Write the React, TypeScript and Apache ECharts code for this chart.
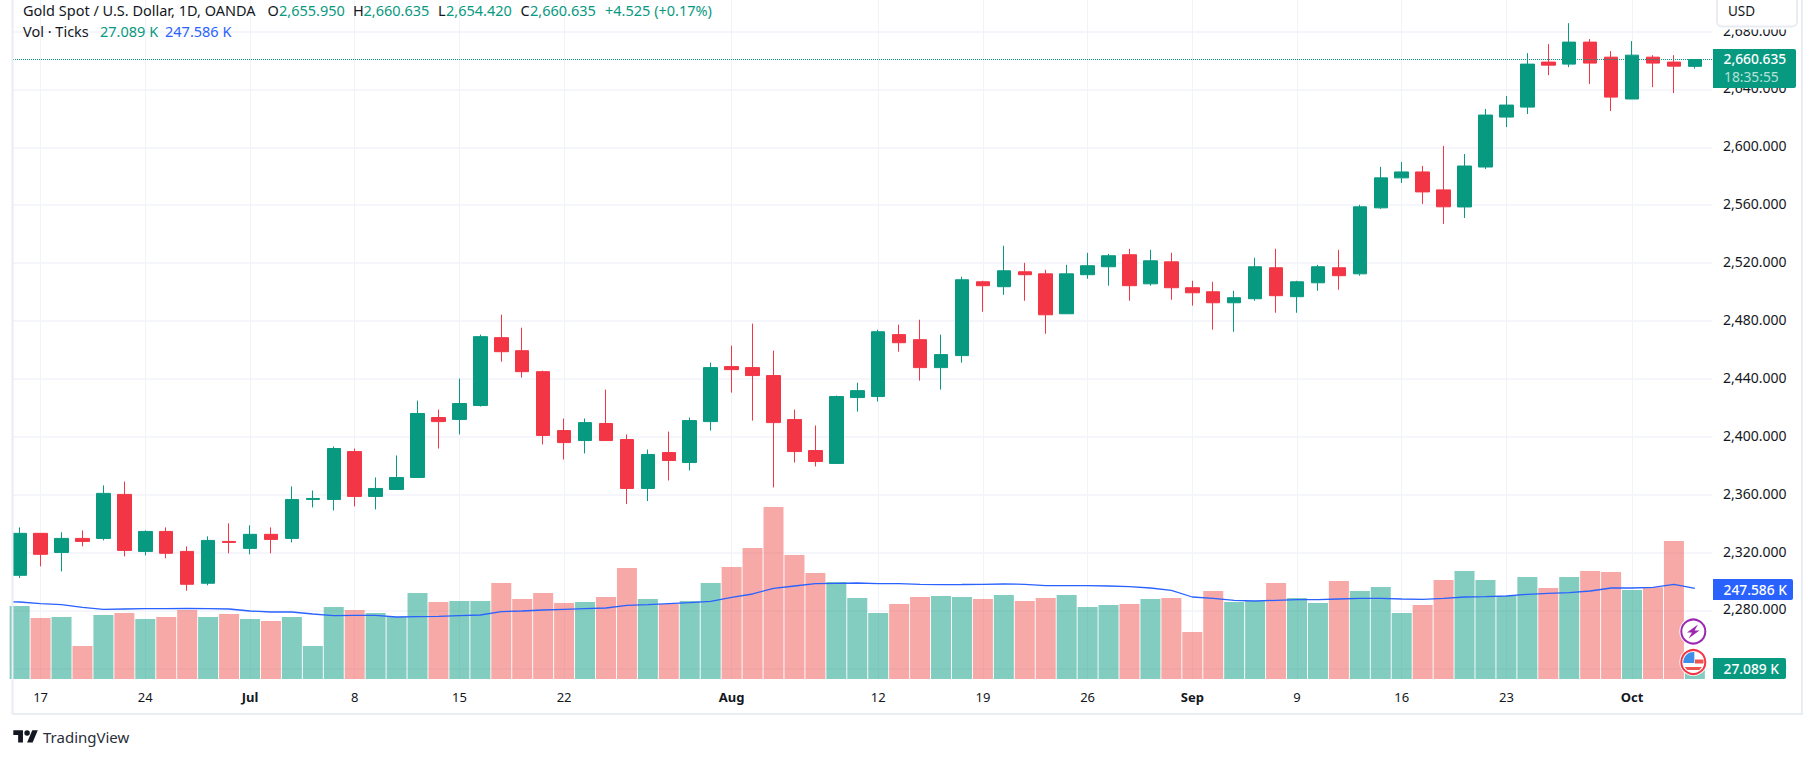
import React, { useEffect, useRef } from "react";
import * as echarts from "echarts";

// open, close, low, high per trading day, 14 Jun – 4 Oct 2024
const ohlcRows: number[][] = [
  [2304.3, 2333.3, 2302.4, 2337.4], [2333.3, 2318.8, 2310.5, 2333.3], [2320.1, 2329.8, 2307, 2334],
  [2329.8, 2327.7, 2324.3, 2335.3], [2329.8, 2360.9, 2328.4, 2366.4], [2360.2, 2321.5, 2317.4, 2369.1],
  [2320.8, 2334.6, 2318.1, 2335.3], [2334.6, 2319.5, 2316, 2337.4], [2320.8, 2298.1, 2293.6, 2324.3],
  [2298.8, 2328.4, 2297.4, 2331.2], [2327.7, 2327, 2319.5, 2340.2], [2322.9, 2332.6, 2318.8, 2338.8],
  [2332.6, 2329.1, 2319.5, 2337.4], [2329.8, 2356.7, 2327, 2365.7], [2356.7, 2357.4, 2351.2, 2362.9],
  [2356.7, 2391.9, 2349.1, 2393.3], [2389.8, 2358.8, 2351.9, 2391.9], [2358.8, 2364.3, 2349.8, 2371.9],
  [2363.6, 2371.9, 2363.6, 2387.1], [2371.9, 2416.1, 2371.9, 2425], [2413.3, 2410.5, 2391.9, 2418.8],
  [2412, 2423, 2401.6, 2440.2], [2421.6, 2469.2, 2420.9, 2470.6], [2468.5, 2458.8, 2451.9, 2484.4],
  [2459.5, 2445, 2440.9, 2475.4], [2445, 2400.9, 2394.7, 2445.7], [2404.3, 2396, 2384.3, 2412.6],
  [2397.4, 2409.8, 2388.5, 2412.6], [2409.2, 2397.4, 2397.4, 2432.6], [2398.1, 2364.3, 2353.5, 2401.6],
  [2364.3, 2387.8, 2355.6, 2391.2], [2389.1, 2383.6, 2369.8, 2403.6], [2382.2, 2411.2, 2376.7, 2413.3],
  [2410.5, 2447.8, 2404.3, 2451.2], [2448.5, 2446.4, 2430.5, 2463], [2447.8, 2442.3, 2411.2, 2478.2],
  [2442.3, 2409.8, 2365, 2459.5], [2411.9, 2389.8, 2382.2, 2418.8], [2390.5, 2382.9, 2379.5, 2407.8],
  [2381.6, 2427.8, 2381.6, 2428.5], [2427.1, 2431.9, 2417.4, 2437.4], [2427.8, 2472.6, 2424.3, 2474],
  [2470.6, 2465, 2458.8, 2477.5], [2467.1, 2447.8, 2438.8, 2480.9], [2447.8, 2456.8, 2432.6, 2470.6],
  [2456.1, 2508.5, 2451.2, 2510.6], [2507.1, 2504.4, 2486.4, 2507.8], [2503.7, 2514.7, 2498.1, 2532],
  [2514, 2512, 2494, 2520.2], [2512.6, 2484.3, 2471.2, 2515.4], [2485, 2512.6, 2485, 2518.8],
  [2512, 2518.2, 2509.2, 2527.1], [2517.5, 2525.1, 2504.4, 2526.4], [2525.8, 2504.4, 2494, 2529.9],
  [2505.7, 2521.6, 2504.4, 2529.2], [2520.9, 2503, 2494.7, 2527.1], [2503, 2499.5, 2490.6, 2507.8],
  [2500.2, 2492.6, 2474, 2507.1], [2492.6, 2496.1, 2472.6, 2500.9], [2495.4, 2517.5, 2494, 2523.7],
  [2516.8, 2497.5, 2485.7, 2529.9], [2496.8, 2507.1, 2485.7, 2507.8], [2506.4, 2517.5, 2500.9, 2518.8],
  [2516.8, 2511.3, 2501.6, 2529.2], [2512.6, 2558.9, 2511.3, 2560.3], [2558.2, 2578.9, 2557.5, 2586.5],
  [2578.9, 2583, 2575.4, 2589.9], [2583, 2569.2, 2560.9, 2587.2], [2570.6, 2558.9, 2547.1, 2601],
  [2558.8, 2587.1, 2551.2, 2595.4], [2586.4, 2622.3, 2585, 2626.5], [2620.9, 2629.2, 2614, 2635.4],
  [2627.8, 2657.5, 2623, 2665.1], [2658.9, 2656.8, 2649.9, 2671.3], [2657.5, 2672.7, 2655.4, 2685.8],
  [2672.7, 2658.2, 2643.7, 2674.8], [2662.3, 2634.7, 2625.1, 2666.5], [2633.4, 2663.7, 2633.4, 2673.4],
  [2662.3, 2658.2, 2641.6, 2663.7], [2658.9, 2656.1, 2637.5, 2663.7], [2655.95, 2660.635, 2654.42, 2660.635],
];

// volume in thousands of ticks
const volumes: number[] = [
  199.2, 166.5, 169.2, 90, 174.7, 180.1, 163.8, 169.2, 188.3, 169.2, 177.4, 163.8, 158.3, 169.2, 90, 196.5,
  188.3, 180.1, 169.2, 234.7, 210.2, 212.9, 212.9, 262, 218.4, 234.7, 207.4, 210.2, 223.8, 303, 218.4, 204.7,
  212.9, 262, 305.7, 357.6, 469.5, 338.4, 289.3, 264.8, 221.1, 180.1, 204.7, 223.8, 226.5, 223.8, 218.4, 229.3,
  212.9, 221.1, 229.3, 196.5, 202, 204.7, 218.4, 221.1, 128.3, 240.2, 210.2, 212.9, 262, 221.1, 207.4, 267.5,
  240.2, 251.1, 180.1, 202, 270.2, 294.8, 270.2, 226.5, 278.4, 248.4, 278.4, 294.8, 292, 242.9, 250.2, 376.7, 27.089,
];

const volumeMa: number[] = [
  210.2, 205.6, 202.9, 195.6, 190.2, 191.1, 192, 192, 192.9, 192, 191.1, 185.6, 182.9, 182.9, 177.4, 172.9,
  173.8, 173.8, 169.2, 170.1, 171, 172.9, 174.7, 183.8, 185.6, 188.3, 190.2, 192, 193.8, 201, 202.9, 205.6,
  208.3, 212, 222.9, 232, 247.5, 253.8, 260.2, 261.1, 262, 260.2, 260.2, 258.4, 257.5, 257.9, 258.4, 259.3,
  258.4, 254.7, 254.7, 254.7, 253.8, 252, 248.4, 242, 223.8, 220.2, 214.7, 212.9, 214.7, 216.5, 216.5, 218.4,
  220.2, 220.2, 218.4, 217.4, 220.2, 223.8, 224.7, 226.5, 231.1, 233.8, 235.6, 240.2, 248.4, 248.4, 250.2, 258.4, 247.586,
];
// the moving average already runs in from the session before the first visible bar
const volumeMaBefore = 211;

const dateTickIndex = [1, 6, 11, 16, 21, 26, 34, 41, 46, 51, 56, 61, 66, 71, 77];
const dateTickLabels = ["17", "24", "Jul", "8", "15", "22", "Aug", "12", "19", "26", "Sep", "9", "16", "23", "Oct"];
const priceTicks = [2240, 2280, 2320, 2360, 2400, 2440, 2480, 2520, 2560, 2600, 2640, 2680];
const lastPrice = 2660.635;

const UP = "#089981";
const DOWN = "#F23645";
const GRID = "#F0F3FA";
const FRAME = "#E9ECF3";
const INK = "#131722";
const BLUE = "#2962FF";
const FONT = '"Noto Sans", sans-serif';

echarts.graphic.registerShape(
  "tvLogo",
  echarts.graphic.extendPath("M14 22H7V11H0V4h14v18zM28 22h-8l7.5-18h8L28 22z M24 8a4 4 0 1 1-8 0a4 4 0 0 1 8 0z", {})
);
echarts.graphic.registerShape(
  "flagCanton",
  echarts.graphic.extendPath("M1 1 L-10 1 A10 10 0 0 1 1 -9.95 Z", {})
);
echarts.graphic.registerShape(
  "flagBottom",
  echarts.graphic.extendPath("M-8.5 5 L8.5 5 A10 10 0 0 1 6 8 L-6 8 A10 10 0 0 1 -8.5 5 Z", {})
);

const txt = (text: string, x: number, y: number, fill: string, size = 14.5, weight = "400", align = "left") => ({
  type: "text",
  x,
  y,
  z: 120,
  silent: true,
  style: { text, fill, font: `${weight} ${size}px ${FONT}`, verticalAlign: "middle", align },
});

const headerGraphics = [
  txt("Gold Spot / U.S. Dollar, 1D, OANDA", 23, 10, INK),
  txt("O", 267.5, 10, INK),
  txt("2,655.950", 279, 10, UP),
  txt("H", 353, 10, INK),
  txt("2,660.635", 363.5, 10, UP),
  txt("L", 438, 10, INK),
  txt("2,654.420", 446, 10, UP),
  txt("C", 520.5, 10, INK),
  txt("2,660.635", 530, 10, UP),
  txt("+4.525 (+0.17%)", 605, 10, UP),
  txt("Vol · Ticks", 23, 31, INK),
  txt("27.089 K", 100, 31, UP),
  txt("247.586 K", 165, 31, BLUE),
];

const boxGraphics = [
  // outer frame
  { type: "line", z: 90, silent: true, shape: { x1: 12.5, y1: 0, x2: 12.5, y2: 714 }, style: { stroke: FRAME, lineWidth: 2 } },
  { type: "line", z: 90, silent: true, shape: { x1: 1802, y1: 0, x2: 1802, y2: 714 }, style: { stroke: FRAME, lineWidth: 2 } },
  { type: "line", z: 90, silent: true, shape: { x1: 12.5, y1: 714, x2: 1803, y2: 714 }, style: { stroke: FRAME, lineWidth: 2 } },
  // USD, with the white band under it that hides the top of the 2,680 label
  { type: "rect", z: 100, silent: true, shape: { x: 1714, y: 26, width: 86, height: 3.5 }, style: { fill: "#fff" } },
  { type: "rect", z: 100, silent: true, shape: { x: 1717, y: -8, width: 80, height: 34.5, r: 5 }, style: { fill: "#fff", stroke: FRAME, lineWidth: 2 } },
  txt("USD", 1728, 10.5, INK, 13.5),
  // last price tag
  { type: "rect", z: 100, silent: true, shape: { x: 1713, y: 49, width: 83, height: 39, r: [0, 2, 2, 0] }, style: { fill: UP } },
  txt("2,660.635", 1723.5, 58.5, "#fff", 13.8, "500"),
  txt("18:35:55", 1724, 76.5, "#B5E0D8", 13.8),
  // MA tag
  { type: "rect", z: 100, silent: true, shape: { x: 1713, y: 579, width: 80, height: 21, r: [0, 2, 2, 0] }, style: { fill: BLUE } },
  txt("247.586 K", 1723.5, 589.5, "#fff", 13.8, "500"),
  // volume tag
  { type: "rect", z: 100, silent: true, shape: { x: 1713, y: 658, width: 73, height: 21, r: [0, 2, 2, 0] }, style: { fill: UP } },
  txt("27.089 K", 1723.5, 668.5, "#fff", 13.8, "500"),
];

const markerGraphics = [
  { type: "circle", z: 100, silent: true, shape: { cx: 1693.3, cy: 631.5, r: 14 }, style: { fill: "#fff" } },
  { type: "circle", z: 101, silent: true, shape: { cx: 1693.3, cy: 631.5, r: 12 }, style: { fill: "#fff", stroke: "#9C27B0", lineWidth: 2 } },
  {
    type: "polygon",
    z: 102,
    silent: true,
    shape: { points: [[1698, 624.5], [1687, 632.5], [1692, 632.5], [1688.5, 638.5], [1699.5, 630.5], [1694.5, 630.5]] },
    style: { fill: "#9C27B0" },
  },
  { type: "circle", z: 103, silent: true, shape: { cx: 1693.3, cy: 662, r: 14 }, style: { fill: "#fff" } },
  { type: "circle", z: 104, silent: true, shape: { cx: 1693.3, cy: 662, r: 12 }, style: { fill: "#fff", stroke: DOWN, lineWidth: 2 } },
  { type: "flagCanton", z: 105, silent: true, x: 1693.3, y: 662, style: { fill: "#3D8FE8" } },
  { type: "rect", z: 105, silent: true, shape: { x: 1695, y: 659.5, width: 8.5, height: 4 }, style: { fill: "#EF5350" } },
  { type: "flagBottom", z: 105, silent: true, x: 1693.3, y: 662, style: { fill: "#EF5350" } },
];

const logoGraphics = [
  { type: "tvLogo", z: 100, silent: true, x: 13.3, y: 727.4, scaleX: 0.69, scaleY: 0.69, style: { fill: INK } },
  txt("TradingView", 43, 736.5, "#2A2E39", 15),
];

export default function App() {
  const ref = useRef<HTMLDivElement>(null);

  useEffect(() => {
    const chart = echarts.init(ref.current!, undefined, { renderer: "svg" });
    const candleData = ohlcRows.map((r, i) => [i, r[0], r[1], r[2], r[3]]);
    const maData = [[-1, volumeMaBefore], ...volumeMa.map((v, i) => [i, v])];
    const option: any = {
      animation: false,
      backgroundColor: "#fff",
      grid: { left: 13, top: 0, width: 1699, height: 679, containLabel: false },
      xAxis: {
        type: "value",
        min: -0.318,
        max: 80.818,
        axisLine: { show: false },
        axisTick: { show: false, customValues: dateTickIndex },
        axisLabel: {
          customValues: dateTickIndex,
          margin: 11,
          color: INK,
          fontFamily: FONT,
          fontSize: 13,
          formatter: (v: number) => {
            const s = dateTickLabels[dateTickIndex.indexOf(v)] ?? "";
            return /[A-Za-z]/.test(s) ? `{m|${s}}` : s;
          },
          rich: { m: { fontFamily: FONT, fontSize: 13, fontWeight: 700, color: INK } },
        },
        splitLine: { show: true, lineStyle: { color: GRID, width: 1 } },
      },
      yAxis: [
        {
          type: "value",
          position: "right",
          min: 2232.65,
          max: 2701.8,
          axisLine: { show: false },
          axisTick: { show: false, customValues: priceTicks },
          axisLabel: {
            customValues: priceTicks,
            margin: 11,
            color: INK,
            fontFamily: FONT,
            fontSize: 14,
            verticalAlign: "bottom",
            lineHeight: 3,
            formatter: (v: number) =>
              v.toLocaleString("en-US", { minimumFractionDigits: 3, maximumFractionDigits: 3 }),
          },
          splitLine: { show: true, lineStyle: { color: GRID, width: 1.5 } },
        },
        {
          type: "value",
          position: "right",
          min: 0,
          max: 1853.2,
          show: false,
          splitLine: { show: false },
        },
      ],
      series: [
        {
          type: "bar",
          name: "Vol",
          yAxisIndex: 1,
          z: 1,
          barWidth: 20,
          data: volumes.map((v, i) => [i, v]),
          itemStyle: {
            color: (p: any) =>
              ohlcRows[p.dataIndex][1] >= ohlcRows[p.dataIndex][0] ? "rgba(8,153,129,0.5)" : "rgba(239,83,80,0.5)",
          },
        },
        {
          type: "line",
          name: "Vol MA",
          yAxisIndex: 1,
          z: 2,
          symbol: "none",
          data: maData,
          lineStyle: { color: BLUE, width: 1.3 },
        },
        {
          type: "candlestick",
          name: "Gold",
          yAxisIndex: 0,
          z: 3,
          barWidth: 14,
          data: candleData,
          itemStyle: { color: UP, color0: DOWN, borderColor: UP, borderColor0: DOWN, borderWidth: 1 },
          markLine: {
            silent: true,
            symbol: ["none", "none"],
            label: { show: false },
            lineStyle: { color: UP, type: "dotted", width: 1 },
            data: [{ yAxis: lastPrice }],
          },
        },
      ],
      graphic: { elements: [...boxGraphics, ...headerGraphics, ...markerGraphics, ...logoGraphics] },
    };
    chart.setOption(option);
    return () => chart.dispose();
  }, []);

  return <div ref={ref} style={{ position: "absolute", left: 0, top: 0, width: 1815, height: 758 }} />;
}
